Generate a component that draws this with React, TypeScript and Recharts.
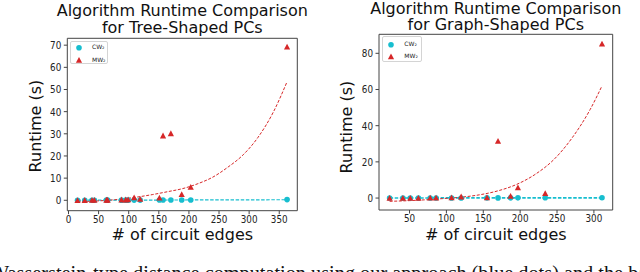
import React from "react";
import { ComposedChart, Scatter, Line, XAxis, YAxis, ReferenceArea } from "recharts";

const CYAN = "#17becf";
const RED = "#d62728";
const AXIS = "#444";
const FONT = "'DejaVu Sans', sans-serif";

// tree-shaped PCs
const treeEdges = [15, 27, 39, 43, 63, 65, 88, 95, 99, 109, 119, 151, 157, 170, 188, 203, 363];
const treeCw = [0.02, 0.03, 0.03, 0.04, 0.05, 0.05, 0.06, 0.07, 0.07, 0.08, 0.08, 0.1, 0.1, 0.11, 0.12, 0.13, 0.3];
const treeMw = [0.05, 0.08, 0.1, 0.1, 0.2, 0.2, 0.3, 0.3, 0.35, 1.3, 0.6, 1.2, 29.2, 30.2, 2.7, 6.0, 69.3];
const treeFitX = [15, 40, 65, 90, 115, 140, 165, 190, 215, 240, 265, 290, 315, 340, 363];
const treeFitMw = [-0.6, -0.4, 0.0, 0.6, 1.5, 2.6, 3.9, 5.3, 7.5, 10.5, 15, 20.5, 28.5, 39.7, 53.5];
const treeFitCwX = [15, 363];
const treeFitCw = [0.02, 0.25];
const treeXTicks = [0, 50, 100, 150, 200, 250, 300, 350];
const treeYTicks = [0, 10, 20, 30, 40, 50, 60, 70];

// graph-shaped PCs
const graphEdges = [23, 41, 51, 62, 78, 86, 107, 120, 155, 170, 187, 197, 234, 311];
const graphCw = [0.02, 0.03, 0.03, 0.04, 0.05, 0.05, 0.06, 0.07, 0.09, 0.1, 0.11, 0.12, 0.14, 0.2];
const graphMw = [0.0, 0.1, 0.1, 0.1, 0.2, 0.2, 0.3, 0.8, 0.3, 31.5, 1.2, 5.8, 2.7, 85.3];
const graphFitX = [23, 45, 70, 95, 120, 145, 170, 195, 220, 245, 270, 295, 311];
const graphFitMw = [-1.8, -1.5, -1.0, -0.3, 0.5, 1.8, 4.0, 7.5, 13, 21, 33, 49, 62];
const graphFitCwX = [23, 311];
const graphFitCw = [0.02, 0.15];
const graphXTicks = [50, 100, 150, 200, 250, 300];
const graphYTicks = [0, 20, 40, 60, 80];

const zip = (xs: number[], ys: number[]) => xs.map((x, i) => ({ x, y: ys[i] }));

const XTick = (props: any) => {
  const { x, y, payload } = props;
  return (
    <text transform={`translate(${x},${y}) scale(0.8,1)`} textAnchor="middle" dy="0.71em" fontSize={11} fill="#222" fontFamily={FONT}>
      {payload.value}
    </text>
  );
};

const YTick = (props: any) => {
  const { x, y, payload } = props;
  return (
    <text transform={`translate(${x},${y}) scale(0.8,1)`} textAnchor="end" dy="0.355em" fontSize={11} fill="#222" fontFamily={FONT}>
      {payload.value}
    </text>
  );
};

const Dot = (p: any) => <circle cx={p.cx} cy={p.cy} r={2.8} fill={CYAN} />;
const Tri = (p: any) => (
  <polygon points={`${p.cx},${p.cy - 3} ${p.cx - 3.1},${p.cy + 2.8} ${p.cx + 3.1},${p.cy + 2.8}`} fill={RED} />
);

function Panel(props: any) {
  const { left, plot, xDomain, yDomain, xTicks, yTicks, cw, mw, fitCw, fitMw, cwWidth } = props;
  return (
    <div style={{ position: "absolute", left, top: 0 }}>
      <ComposedChart width={320} height={272} margin={{ top: plot.top, right: 320 - plot.right, bottom: 0, left: 0 }}>
        <XAxis
          type="number"
          dataKey="x"
          domain={xDomain}
          ticks={xTicks}
          interval={0}
          allowDataOverflow
          height={272 - plot.bottom}
          axisLine={false}
          tickLine={{ stroke: AXIS }}
          tickSize={3.5}
          tickMargin={1}
          tick={XTick}
        />
        <YAxis
          type="number"
          dataKey="y"
          domain={yDomain}
          ticks={yTicks}
          interval={0}
          allowDataOverflow
          width={plot.left}
          axisLine={false}
          tickLine={{ stroke: AXIS }}
          tickSize={3.5}
          tickMargin={2.5}
          tick={YTick}
        />
        <ReferenceArea x1={xDomain[0]} x2={xDomain[1]} y1={yDomain[0]} y2={yDomain[1]} fill="none" stroke={AXIS} strokeWidth={1} fillOpacity={0} />
        <Scatter data={cw} dataKey="y" shape={Dot} isAnimationActive={false} />
        <Scatter data={mw} dataKey="y" shape={Tri} isAnimationActive={false} />
        <Line data={fitCw} dataKey="y" type="linear" stroke={CYAN} strokeWidth={cwWidth} strokeDasharray="3.5 1.6" dot={false} activeDot={false} isAnimationActive={false} />
        <Line data={fitMw} dataKey="y" type="monotone" stroke={RED} strokeWidth={1} strokeDasharray="3 1.6" dot={false} activeDot={false} isAnimationActive={false} />
      </ComposedChart>
    </div>
  );
}

function LegendBox(props: any) {
  const { left, top, width, height, dotY, triY } = props;
  const text = { position: "absolute" as const, left: 21, fontSize: 6, lineHeight: "8px", fontFamily: FONT, color: "#222" };
  return (
    <div style={{ position: "absolute", left, top, width, height, border: "1px solid #d4d4d4", borderRadius: 2, background: "rgba(255,255,255,0.8)", boxSizing: "border-box" }}>
      <svg width={width} height={height} style={{ position: "absolute", left: -1, top: -1 }}>
        <circle cx={9} cy={dotY} r={2.8} fill={CYAN} />
        <polygon points={`9,${triY - 3} ${9 - 3.1},${triY + 2.8} ${9 + 3.1},${triY + 2.8}`} fill={RED} />
      </svg>
      <div style={{ ...text, top: dotY - 5 }}>CW₂</div>
      <div style={{ ...text, top: triY - 5 }}>MW₂</div>
    </div>
  );
}

const titleStyle = { position: "absolute" as const, width: 320, height: 16, textAlign: "center" as const, fontFamily: FONT, fontSize: 16, lineHeight: "16px", color: "#111", whiteSpace: "nowrap" as const };
const labelStyle = { position: "absolute" as const, width: 200, height: 16, textAlign: "center" as const, fontFamily: FONT, fontSize: 16, lineHeight: "16px", color: "#111", whiteSpace: "nowrap" as const };

export default function App() {
  return (
    <div style={{ position: "absolute", left: 0, top: 0, width: 640, height: 272, overflow: "hidden", background: "#fff" }}>
      <Panel
        left={0}
        plot={{ left: 67.3, right: 297.3, top: 38.3, bottom: 210.7 }}
        xDomain={[-2, 380]}
        yDomain={[-4.7, 73.1]}
        xTicks={treeXTicks}
        yTicks={treeYTicks}
        cw={zip(treeEdges, treeCw)}
        mw={zip(treeEdges, treeMw)}
        fitCw={zip(treeFitCwX, treeFitCw)}
        fitMw={zip(treeFitX, treeFitMw)}
        cwWidth={1.2}
      />
      <Panel
        left={320}
        plot={{ left: 59, right: 292.7, top: 34.3, bottom: 210 }}
        xDomain={[8.6, 325.5]}
        yDomain={[-6.6, 90.5]}
        xTicks={graphXTicks}
        yTicks={graphYTicks}
        cw={zip(graphEdges, graphCw)}
        mw={zip(graphEdges, graphMw)}
        fitCw={zip(graphFitCwX, graphFitCw)}
        fitMw={zip(graphFitX, graphFitMw)}
        cwWidth={1.7}
      />
      <div style={{ ...titleStyle, left: 182.3 - 160, top: 3.1 }}>Algorithm Runtime Comparison</div>
      <div style={{ ...titleStyle, left: 182.3 - 160, top: 19.7 }}>for Tree-Shaped PCs</div>
      <div style={{ ...titleStyle, left: 495.8 - 160, top: 1 }}>Algorithm Runtime Comparison</div>
      <div style={{ ...titleStyle, left: 495.8 - 160, top: 17.4 }}>for Graph-Shaped PCs</div>
      <div style={{ ...labelStyle, left: 182.3 - 100, top: 227.1 }}># of circuit edges</div>
      <div style={{ ...labelStyle, left: 495.8 - 100, top: 227.1 }}># of circuit edges</div>
      <div style={{ ...labelStyle, left: 35.8 - 100, top: 126 - 8, transform: "rotate(-90deg)" }}>Runtime (s)</div>
      <div style={{ ...labelStyle, left: 346.7 - 100, top: 126.5 - 8, transform: "rotate(-90deg)" }}>Runtime (s)</div>
      <LegendBox left={70} top={40.5} width={38.3} height={23.5} dotY={6.7} triY={19} />
      <LegendBox left={382.3} top={35.7} width={39.4} height={26.6} dotY={8.8} triY={20.5} />
      <div style={{ position: "absolute", left: -10, top: 263, fontFamily: "'Liberation Serif', serif", fontSize: 20.3, lineHeight: "20px", color: "#111", whiteSpace: "nowrap" }}>
        Wasserstein-type distance computation using our approach (blue dots) and the baseline
      </div>
    </div>
  );
}
